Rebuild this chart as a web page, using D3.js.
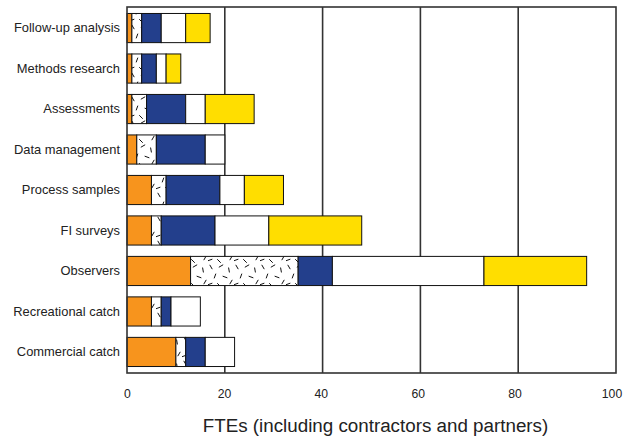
<!DOCTYPE html>
<html><head><meta charset="utf-8">
<script src="https://cdn.jsdelivr.net/npm/d3@7"></script>
<style>body{margin:0;background:#fff}svg{display:block}</style>
</head><body>
<svg id="c" width="625" height="438"></svg>
<script>
const categories = ["Follow-up analysis","Methods research","Assessments","Data management","Process samples","FI surveys","Observers","Recreational catch","Commercial catch"];
const seriesNames = ["s1","s2","s3","s4","s5"];
const s1 = [1,1,1,2,5,5,13,5,10];
const s2 = [2,2,3,4,3,2,22,2,2];
const s3 = [4,3,8,10,11,11,7,2,4];
const s4 = [5,2,4,4,5,11,31,6,6];
const s5 = [5,3,10,0,8,19,21,0,0];
const xTicks = [0,20,40,60,80,100];
const xTitle = "FTEs (including contractors and partners)";

const svg = d3.select("#c");
const defs = svg.append("defs");
const pat = defs.append("pattern").attr("id","dash").attr("patternUnits","userSpaceOnUse")
  .attr("width",26).attr("height",24);
pat.append("rect").attr("width",26).attr("height",24).attr("fill","#fff");
const dashes = [[3,3,60],[13,2,-30],[21,6,80],[7,12,-70],[17,13,20],[2,20,-20],[11,21,45],[23,18,-60]];
dashes.forEach(d=>{
  const a = d[2]*Math.PI/180, L=2.5;
  pat.append("line").attr("x1",d[0]-L*Math.cos(a)).attr("y1",d[1]-L*Math.sin(a))
    .attr("x2",d[0]+L*Math.cos(a)).attr("y2",d[1]+L*Math.sin(a))
    .attr("stroke","#111").attr("stroke-width",1);
});
const fills = ["#F7941D","url(#dash)","#233F8C","#ffffff","#FFDE00"];

const m = {left:127,right:616,top:7,bottom:373};
const x = d3.scaleLinear().domain([0,100]).range([m.left,m.right]);
const y = d3.scaleBand().domain(categories).range([m.top,m.bottom]).paddingInner(0.28).paddingOuter(0.16);

const data = categories.map((c,i)=>({cat:c, s1:s1[i], s2:s2[i], s3:s3[i], s4:s4[i], s5:s5[i]}));
const stack = d3.stack().keys(seriesNames)(data);

// gridlines
svg.append("g").selectAll("line").data(xTicks.slice(1,-1)).join("line")
  .attr("x1",d=>x(d)).attr("x2",d=>x(d)).attr("y1",m.top).attr("y2",m.bottom)
  .attr("stroke","#333").attr("stroke-width",1.6);

// bars
stack.forEach((s,k)=>{
  svg.append("g").selectAll("rect").data(s.filter(d=>d[1]-d[0]>0)).join("rect")
    .attr("x",d=>x(d[0])).attr("width",d=>x(d[1])-x(d[0]))
    .attr("y",d=>y(d.data.cat)).attr("height",y.bandwidth())
    .attr("fill",fills[k]).attr("stroke","#111").attr("stroke-width",1);
});

// frame
svg.append("rect").attr("x",m.left).attr("y",m.top).attr("width",m.right-m.left).attr("height",m.bottom-m.top)
  .attr("fill","none").attr("stroke","#333").attr("stroke-width",1.6);

// x axis
const xa = svg.append("g").attr("transform",`translate(0,${m.bottom})`)
  .call(d3.axisBottom(x).tickValues(xTicks).tickSize(0).tickPadding(16));
xa.select(".domain").remove();
xa.selectAll("text").attr("font-family","Liberation Sans, Arial, sans-serif").attr("font-size",12.2)
  .attr("fill","#222").attr("dx",d=>-d*0.045);

// y axis
const ya = svg.append("g").attr("transform",`translate(${m.left},0)`)
  .call(d3.axisLeft(y).tickSize(0).tickPadding(7));
ya.select(".domain").remove();
ya.selectAll("text").attr("font-family","Liberation Sans, Arial, sans-serif").attr("font-size",12.9).attr("fill","#222");

svg.append("text").attr("x",(m.left+m.right)/2+4).attr("y",432).attr("text-anchor","middle")
  .attr("font-family","Liberation Sans, Arial, sans-serif").attr("font-size",18.8).attr("fill","#222").text(xTitle);
</script>
</body></html>
